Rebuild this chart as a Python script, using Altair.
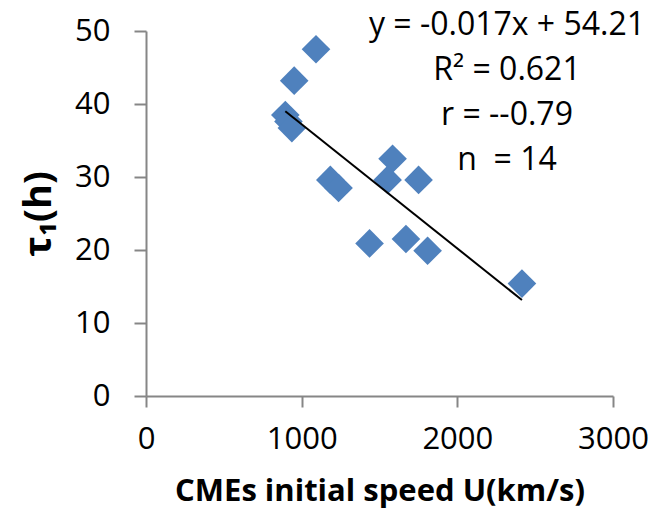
import altair as alt
import pandas as pd

speed = [1092, 952, 895, 915, 937, 1184, 1237, 1584, 1552, 1751, 1436, 1670, 1809, 2415]
tau = [47.5, 43.2, 38.5, 37.6, 36.7, 29.6, 28.5, 32.5, 29.6, 29.6, 20.9, 21.5, 19.9, 15.4]
slope = -0.017
intercept = 54.21
annotation = ["y = -0.017x + 54.21", "R² = 0.621", "r = --0.79", "n\u00a0 = 14"]
x_ticks = [0, 1000, 2000, 3000]
y_ticks = [0, 10, 20, 30, 40, 50]

df = pd.DataFrame({"speed": speed, "tau": tau})
line_df = pd.DataFrame({"speed": [min(speed), max(speed)]})

FONT = "Open Sans"
GRAY = "#868686"

xenc = alt.X("speed:Q", scale=alt.Scale(domain=[0, 3000], nice=False),
             axis=alt.Axis(values=x_ticks, format="d", title="CMEs initial speed U(km/s)", grid=False,
                           domainColor=GRAY, tickColor=GRAY, domainWidth=2, tickWidth=2,
                           tickSize=11, labelPadding=17, labelFontSize=31, labelFont=FONT,
                           labelColor="black", titleFont=FONT, titleFontSize=31,
                           titleFontWeight="bold", titleColor="black", titlePadding=22,
                           labelFlush=False))
yenc = alt.Y("tau:Q", scale=alt.Scale(domain=[0, 50], nice=False),
             axis=alt.Axis(values=y_ticks, format="d", title="τ₁(h)", grid=False,
                           domainColor=GRAY, tickColor=GRAY, domainWidth=2, tickWidth=2,
                           tickSize=12, labelPadding=24, labelFontSize=31, labelFont=FONT,
                           labelColor="black", titleFont=FONT, titleFontSize=38,
                           titleFontWeight="bold", titleColor="black", titlePadding=16,
                           labelFlush=False))

points = alt.Chart(df).mark_point(shape="diamond", filled=True, size=820, opacity=1,
                                  color="#4F81BD", strokeWidth=0).encode(x=xenc, y=yenc)

trend = alt.Chart(line_df).transform_calculate(
    tau=f"{slope} * datum.speed + {intercept}"
).mark_line(color="black", strokeWidth=2).encode(x="speed:Q", y="tau:Q")

text = alt.Chart(pd.DataFrame({"a": [0]})).mark_text(
    font=FONT, fontSize=32, color="black", align="center", baseline="top", lineHeight=45
).encode(x=alt.value(361), y=alt.value(-21), text=alt.value(annotation))

chart = alt.layer(points, trend, text).properties(
    width=467, height=365,
    autosize=alt.AutoSizeParams(type="none"),
    padding={"left": 146, "top": 31, "right": 52, "bottom": 120},
    background="white",
).configure_view(stroke=None)

chart.save("out.html", embed_options={"renderer": "svg", "actions": False})
